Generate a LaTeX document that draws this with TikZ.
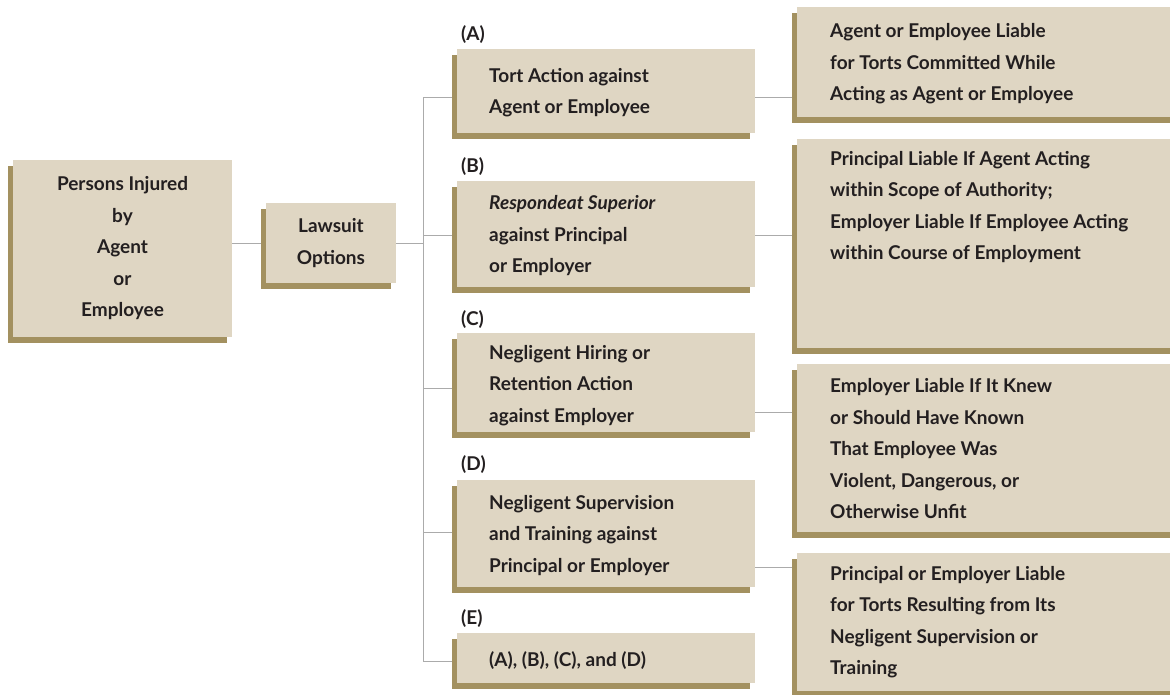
\documentclass[tikz,border=0pt]{standalone}
\usepackage{fontspec}
\setmainfont{Lato}
\usetikzlibrary{shadows}
\pgfdeclarelayer{bg}
\pgfsetlayers{bg,main}
\definecolor{boxfill}{HTML}{DFD6C3}
\definecolor{shadowc}{HTML}{A39160}
\definecolor{linec}{HTML}{ABABAB}
\definecolor{textc}{HTML}{231F20}
\tikzset{
  box/.style={fill=boxfill, draw=none, inner sep=0pt,
    drop shadow={shadow xshift=-5.5pt, shadow yshift=-5.5pt, fill=shadowc, opacity=1}},
  txtfont/.style={font=\fontsize{19}{31.5}\selectfont\bfseries, text=textc},
  txt/.style={txtfont, inner sep=0pt, align=left},
  lbl/.style={txtfont, inner sep=0pt, anchor=west},
  conn/.style={draw=linec, line width=1pt},
}
\begin{document}
\begin{tikzpicture}[x=1pt, y=-1pt]
\useasboundingbox (0,0) rectangle (1170,694);
% left boxes
\node[box, txtfont, align=center, minimum width=219pt, minimum height=177pt] (P) at (122.5,248.5)
  {Persons Injured\\by\\Agent\\or\\Employee};
\node[box, txtfont, align=center, minimum width=130pt, minimum height=80pt] (L) at (331,243)
  {Lawsuit\\Options};
% middle boxes
\node[box, minimum width=298pt, minimum height=84pt]  (A) at (606,91) {};
\node[box, minimum width=298pt, minimum height=106pt] (B) at (606,234) {};
\node[box, minimum width=298pt, minimum height=99pt]  (C) at (606,382.5) {};
\node[box, minimum width=298pt, minimum height=107pt] (D) at (606,533.5) {};
\node[box, minimum width=298pt, minimum height=50pt]  (E) at (606,658) {};
% right boxes
\node[box, minimum width=378pt, minimum height=110pt] (R1) at (986,62) {};
\node[box, minimum width=378pt, minimum height=209pt] (R2) at (986,243.5) {};
\node[box, minimum width=378pt, minimum height=168pt] (R3) at (986,448) {};
\node[box, minimum width=378pt, minimum height=138pt] (R4) at (986,622) {};
% labels
\node[lbl] (lA) at (461,35) {(A)};
\node[lbl] (lB) at (461,167) {(B)};
\node[lbl] (lC) at (461,320) {(C)};
\node[lbl] (lD) at (461,465) {(D)};
\node[lbl] (lE) at (461,619) {(E)};
% middle texts
\node[txt, anchor=west] (tA) at (489,92.5) {Tort Action against\\Agent or Employee};
\node[txt, anchor=west] (tB) at (489,236) {\textit{Respondeat Superior}\\against Principal\\or Employer};
\node[txt, anchor=west] (tC) at (489,385.5) {Negligent Hiring or\\Retention Action\\against Employer};
\node[txt, anchor=west] (tD) at (489,535.5) {Negligent Supervision\\and Training against\\Principal or Employer};
\node[txt, anchor=west] (tE) at (489,661) {(A), (B), (C), and (D)};
% right texts
\node[txt, anchor=west] (tR1) at (830,64) {Agent or Employee Liable\\for Torts Committed While\\Acting as Agent or Employee};
\node[txt, anchor=north west] (tR2) at (830,151) {Principal Liable If Agent Acting\\within Scope of Authority;\\Employer Liable If Employee Acting\\within Course of Employment};
\node[txt, anchor=west] (tR3) at (830,449) {Employer Liable If It Knew\\or Should Have Known\\That Employee Was\\Violent, Dangerous, or\\Otherwise Unfit};
\node[txt, anchor=west] (tR4) at (830,622) {Principal or Employer Liable\\for Torts Resulting from Its\\Negligent Supervision or\\Training};
% connectors
\coordinate (vt) at (423,97);
\coordinate (vb) at (423,661);
\coordinate (jB) at (423,235);
\coordinate (jC) at (423,388);
\coordinate (jD) at (423,532);
\coordinate (kC) at (780,412);
\coordinate (kD) at (780,567);
\begin{pgfonlayer}{bg}
\draw[conn] (L.west -| P.east) -- (L.west);
\draw[conn] (L.east) -- (L.east -| vt);
\draw[conn] (vt) -- (vb);
\draw[conn] (vt) -- (vt -| A.west);
\draw[conn] (jB) -- (jB -| B.west);
\draw[conn] (jC) -- (jC -| C.west);
\draw[conn] (jD) -- (jD -| D.west);
\draw[conn] (vb) -- (vb -| E.west);
\draw[conn] (vt -| A.east) -- (vt -| R1.west);
\draw[conn] (jB -| B.east) -- (jB -| R2.west);
\draw[conn] (kC -| C.east) -- (kC -| R3.west);
\draw[conn] (kD -| D.east) -- (kD -| R4.west);
\end{pgfonlayer}
\end{tikzpicture}
\end{document}
